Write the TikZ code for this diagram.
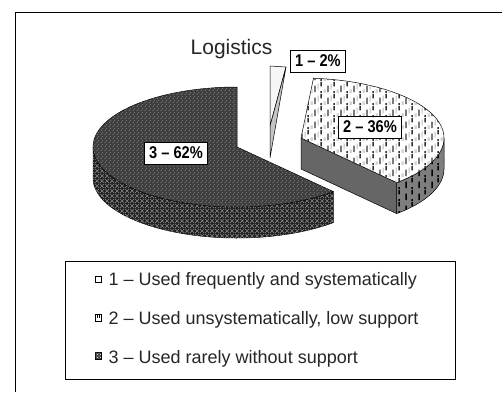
\documentclass[tikz,border=0pt]{standalone}
\usepackage{fontspec}
\setmainfont{Liberation Sans}
\usetikzlibrary{patterns}
\pgfdeclarepatternformonly{vdashes}{\pgfqpoint{0pt}{0pt}}{\pgfqpoint{13pt}{12pt}}{\pgfqpoint{13pt}{12pt}}{%
  \pgfsetlinewidth{1.5pt}%
  \pgfpathmoveto{\pgfqpoint{3.25pt}{1pt}}\pgfpathlineto{\pgfqpoint{3.25pt}{8pt}}%
  \pgfpathmoveto{\pgfqpoint{9.75pt}{7pt}}\pgfpathlineto{\pgfqpoint{9.75pt}{12pt}}%
  \pgfpathmoveto{\pgfqpoint{9.75pt}{0pt}}\pgfpathlineto{\pgfqpoint{9.75pt}{2pt}}%
  \pgfusepath{stroke}}
\pgfdeclarepatternformonly{vdashesfaint}{\pgfqpoint{0pt}{0pt}}{\pgfqpoint{13pt}{12pt}}{\pgfqpoint{13pt}{12pt}}{%
  \pgfsetlinewidth{1.2pt}%
  \pgfpathmoveto{\pgfqpoint{6.5pt}{4pt}}\pgfpathlineto{\pgfqpoint{6.5pt}{10pt}}%
  \pgfpathmoveto{\pgfqpoint{0pt}{0pt}}\pgfpathlineto{\pgfqpoint{0pt}{4pt}}%
  \pgfpathmoveto{\pgfqpoint{13pt}{0pt}}\pgfpathlineto{\pgfqpoint{13pt}{4pt}}%
  \pgfusepath{stroke}}
\pgfdeclarepatternformonly{weave}{\pgfqpoint{0pt}{0pt}}{\pgfqpoint{4pt}{3.5pt}}{\pgfqpoint{4pt}{3.5pt}}{%
  \pgfsetlinewidth{0.9pt}%
  \pgfpathmoveto{\pgfqpoint{0.8pt}{0.9pt}}\pgfpathlineto{\pgfqpoint{2.4pt}{0.9pt}}%
  \pgfpathmoveto{\pgfqpoint{2.8pt}{2.6pt}}\pgfpathlineto{\pgfqpoint{4pt}{2.6pt}}%
  \pgfusepath{stroke}}
\pgfdeclarepatternformonly{widehatch}{\pgfqpoint{0pt}{0pt}}{\pgfqpoint{5pt}{5pt}}{\pgfqpoint{5pt}{5pt}}{%
  \pgfsetlinewidth{0.6pt}%
  \pgfpathmoveto{\pgfqpoint{0pt}{0pt}}\pgfpathlineto{\pgfqpoint{5pt}{5pt}}%
  \pgfpathmoveto{\pgfqpoint{0pt}{5pt}}\pgfpathlineto{\pgfqpoint{5pt}{0pt}}%
  \pgfusepath{stroke}}
\definecolor{cthreetop}{HTML}{3E3E3E}
\definecolor{cthreeside}{HTML}{202020}
\definecolor{ctwoface}{HTML}{666666}
\definecolor{ctwoside}{HTML}{7E7E7E}
\definecolor{conelight}{HTML}{F6F6F6}
\definecolor{conegray}{HTML}{C4C4C4}
\definecolor{ctexture}{HTML}{8C8C8C}
\tikzset{
  edge/.style={draw=black, line width=0.5pt, line join=round},
  sthreetop/.style={edge, fill=cthreetop, postaction={pattern=weave, pattern color=ctexture}},
  sthreeside/.style={edge, fill=cthreeside, postaction={pattern=widehatch, pattern color=ctexture}},
  stwotop/.style={edge, fill=white, postaction={pattern=vdashesfaint, pattern color=black!25}, postaction={pattern=vdashes, pattern color=black!80}},
  stwoside/.style={edge, fill=ctwoside, postaction={pattern=vdashes, pattern color=black}},
  stwoface/.style={edge, fill=ctwoface},
  lbl/.style={draw=black, line width=0.8pt, fill=white, inner xsep=5pt, inner ysep=0pt,
    minimum height=22pt, font=\bfseries\fontsize{17}{17}\selectfont},
  legtext/.style={anchor=base west, inner sep=0pt, font=\fontsize{18}{18}\selectfont, text=black!85},
  legmark/.style={draw=black, line width=0.6pt, minimum size=6.5pt, inner sep=0pt}
}
\newcommand{\narrowlbl}[1]{\scalebox{0.86}[1]{#1}}
\begin{document}
\begin{tikzpicture}[x=1pt,y=-1pt]
\useasboundingbox (0,0) rectangle (502,392);
\fill[white] (0,0) rectangle (502,392);
% outer frame
\draw[line width=0.8pt] (15,392) -- (15,12) -- (502,12);

% slice 3 (62%)
\path[sthreeside] plot[domain=180:312,samples=60] ({237+144*cos(\x)},{147-60*sin(\x)})
   -- plot[domain=312:180,samples=60] ({237+144*cos(\x)},{178-60*sin(\x)}) -- cycle;
\path[sthreetop] (237,147) -- plot[domain=90:312,samples=90] ({237+144*cos(\x)},{147-60*sin(\x)}) -- cycle;

% slice 1 (2%)
\path[edge, fill=conelight] (270,66) -- (286,67) -- (270,126) -- cycle;
\path[edge, fill=conegray] (286,67) -- (270,158) -- (270,126) -- cycle;

% slice 2 (36%)
\path[stwoside] plot[domain=-48:0,samples=30] ({301+143*cos(\x)},{138-60*sin(\x)})
   -- plot[domain=0:-48,samples=30] ({301+143*cos(\x)},{169-60*sin(\x)}) -- cycle;
\path[stwoface] (301,138) -- ({301+143*cos(-48)},{138-60*sin(-48)})
   -- ({301+143*cos(-48)},{169-60*sin(-48)}) -- (301,169) -- cycle;
\path[stwotop] (301,138) -- plot[domain=85:-48,samples=80] ({301+143*cos(\x)},{138-60*sin(\x)}) -- cycle;

% title and labels
\node[anchor=base west, inner sep=0pt, font=\fontsize{21}{21}\selectfont, text=black!85] (title) at (190.5,54.3) {Logistics};
\node[lbl] (lone) at (318,61) {\narrowlbl{1 – 2\%}};
\node[lbl] (ltwo) at (370,127) {\narrowlbl{2 – 36\%}};
\node[lbl] (lthree) at (176,153) {\narrowlbl{3 – 62\%}};

% legend
\node[draw=black, line width=0.8pt, anchor=north west, minimum width=390pt, minimum height=118pt, inner sep=0pt] (legend) at (65,261) {};
\node[legmark, fill=white] (mone) at (98.3,279.2) {};
\node[legmark, fill=white, path picture={
   \draw[line width=0.5pt] ([xshift=-1.2pt]path picture bounding box.north) -- ++(0,-3.5pt);
   \draw[line width=0.5pt] ([xshift=1.2pt]path picture bounding box.north) -- ++(0,-3.5pt);}] (mtwo) at (98.3,317.6) {};
\node[legmark, fill=black!75, postaction={pattern=crosshatch dots, pattern color=white}] (mthree) at (98.3,355.6) {};
\node[legtext] (tone) at (108.5,285) {1 – Used frequently and systematically};
\node[legtext] (ttwo) at (108.5,324.3) {2 – Used unsystematically, low support};
\node[legtext] (tthree) at (108.5,363.3) {3 – Used rarely without support};
\end{tikzpicture}
\end{document}
